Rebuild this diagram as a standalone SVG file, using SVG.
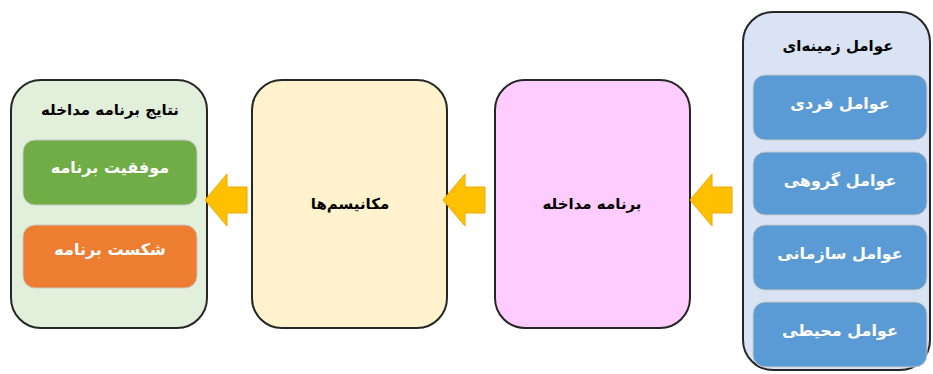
<svg xmlns="http://www.w3.org/2000/svg" width="933" height="374" viewBox="0 0 933 374">
<style>
.outer{stroke:#262626;stroke-width:2}
.inner{stroke:#c9c9c9;stroke-width:1}
.t{font-family:"DejaVu Sans",sans-serif;text-anchor:middle;direction:rtl;dominant-baseline:central}
.title{font-size:15px;font-weight:bold;fill:#000}
.w{font-size:16px;font-weight:bold;fill:#fff}
.arrow{fill:#ffc000;stroke:#f0a800;stroke-width:1}
</style>
<rect width="933" height="374" fill="#fff"/>
<g id="outcomes">
<rect class="outer" x="11" y="80" width="196" height="248" rx="30" fill="#e2efda"/>
<text class="t title" x="110" y="110">نتایج برنامه مداخله</text>
<rect class="inner" x="23" y="140" width="174" height="65" rx="12" fill="#70ad47"/>
<text class="t w" x="110" y="167">موفقیت برنامه</text>
<rect class="inner" x="23" y="225" width="174" height="63" rx="12" fill="#ed7d31"/>
<text class="t w" x="110" y="249">شکست برنامه</text>
</g>
<g id="mechanisms">
<rect class="outer" x="252" y="80" width="195" height="248" rx="30" fill="#fff2cc"/>
<text class="t title" x="350" y="204">مکانیسم‌ها</text>
</g>
<g id="program">
<rect class="outer" x="495" y="80" width="195" height="248" rx="30" fill="#ffccff"/>
<text class="t title" x="592" y="204">برنامه مداخله</text>
</g>
<g id="context">
<rect class="outer" x="743" y="12" width="187" height="358" rx="30" fill="#dae3f3"/>
<text class="t title" x="838" y="46">عوامل زمینه‌ای</text>
<rect class="inner" x="753" y="75" width="174" height="65" rx="12" fill="#5b9bd5"/>
<text class="t w" x="840" y="103">عوامل فردی</text>
<rect class="inner" x="753" y="152" width="174" height="63" rx="12" fill="#5b9bd5"/>
<text class="t w" x="840" y="180">عوامل گروهی</text>
<rect class="inner" x="753" y="225" width="174" height="65" rx="12" fill="#5b9bd5"/>
<text class="t w" x="840" y="253">عوامل سازمانی</text>
<rect class="inner" x="753" y="302" width="174" height="65" rx="12" fill="#5b9bd5"/>
<text class="t w" x="840" y="330">عوامل محیطی</text>
</g>
<g id="connectors">
<polygon class="arrow" points="205,200 227,174 227,187 247,187 247,213 227,213 227,226"/>
<polygon class="arrow" points="443,200 465,174 465,187 485,187 485,213 465,213 465,226"/>
<polygon class="arrow" points="690,200 712,174 712,187 732,187 732,213 712,213 712,226"/>
</g>
</svg>
